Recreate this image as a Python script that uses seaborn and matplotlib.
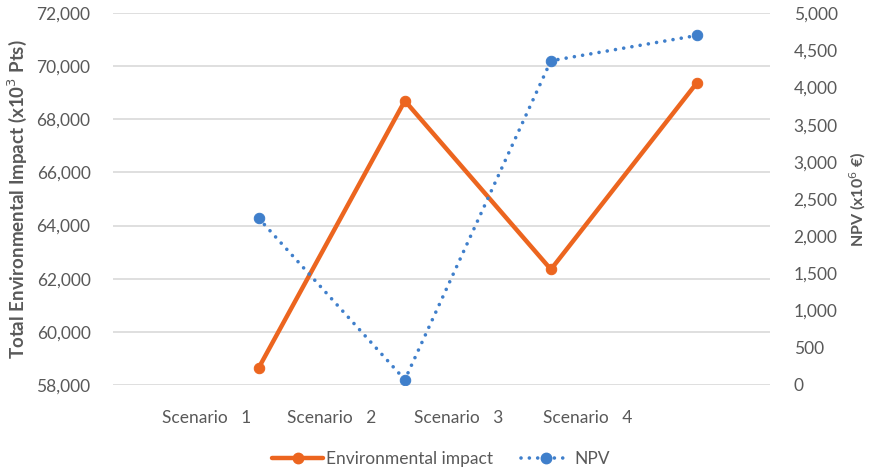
import matplotlib
matplotlib.use("Agg")
import matplotlib.pyplot as plt
import seaborn as sns
import pandas as pd
from matplotlib.ticker import FuncFormatter, MultipleLocator
from matplotlib.lines import Line2D

# Scenario results
scenarios = ["Scenario   1", "Scenario   2", "Scenario   3", "Scenario   4"]
env_impact = [58650, 68700, 62350, 69380]   # x10^3 Pts
npv = [2240, 70, 4360, 4700]                # x10^6 EUR

ORANGE = "#EC651F"
BLUE = "#3F7FCB"
TEXT = "#595959"
GRID = "#D9D9D9"
DOTS = (0, (0.01, 2.3))

sns.set_theme(style="white")
plt.rcParams["font.family"] = ["Lato", "DejaVu Sans"]

df = pd.DataFrame({"scenario": scenarios, "env": env_impact, "npv": npv})
df["pos"] = range(len(df))

fig = plt.figure(figsize=(8.74, 4.70), dpi=100)
ax = fig.add_axes([0.129, 0.181, 0.752, 0.791])
ax2 = ax.twinx()

sns.lineplot(data=df, x="pos", y="env", ax=ax, color=ORANGE, lw=3.2,
             marker="o", markersize=7.5, markeredgecolor=ORANGE, sort=False,
             zorder=3)
sns.lineplot(data=df, x="pos", y="npv", ax=ax2, color=BLUE, lw=2.6,
             linestyle=DOTS, dash_capstyle="round",
             marker="o", markersize=7.5, markeredgecolor=BLUE, sort=False,
             zorder=3)

ax.set_xlim(-1.0, 3.5)
ax.set_ylim(58000, 72000)
ax2.set_ylim(0, 5000)
ax.yaxis.set_major_locator(MultipleLocator(2000))
ax2.yaxis.set_major_locator(MultipleLocator(500))
fmt = FuncFormatter(lambda v, p: f"{v:,.0f}")
ax.yaxis.set_major_formatter(fmt)
ax2.yaxis.set_major_formatter(fmt)

ax.grid(axis="y", color=GRID, lw=1.2)
ax.set_axisbelow(True)
for a in (ax, ax2):
    for s in a.spines.values():
        s.set_visible(False)

# category labels sit just left of each scenario point
label_pos = [-0.36, 0.5, 1.37, 2.25]
ax.set_xticks(label_pos)
ax.set_xticklabels(scenarios)
ax.tick_params(axis="x", length=0, pad=18, labelsize=12.5, labelcolor=TEXT)
ax.tick_params(axis="y", length=0, pad=16, labelsize=12.5, labelcolor=TEXT)
ax2.tick_params(axis="y", length=0, pad=17, labelsize=12.5, labelcolor=TEXT)

ax.set_xlabel("")
ax.set_ylabel("Total Environmental Impact (x10$^3$ Pts)", fontsize=13.5,
              fontweight="bold", color=TEXT, labelpad=5)
ax2.set_ylabel("NPV (x10$^6$ €)", fontsize=11.5, fontweight="bold",
               color=TEXT, labelpad=7)

handles = [
    Line2D([], [], color=ORANGE, lw=3.2, marker="o", markersize=7.5),
    Line2D([], [], color=BLUE, lw=2.6, linestyle=DOTS,
           dash_capstyle="round", marker="o", markersize=7.5),
]
fig.legend(handles, ["Environmental impact", "NPV"], loc="center",
           bbox_to_anchor=(0.505, 0.024), ncol=2, frameon=False,
           fontsize=12.5, labelcolor=TEXT, handlelength=2.9,
           handletextpad=0.2, columnspacing=1.6)

fig.savefig("out.png", dpi=100)
